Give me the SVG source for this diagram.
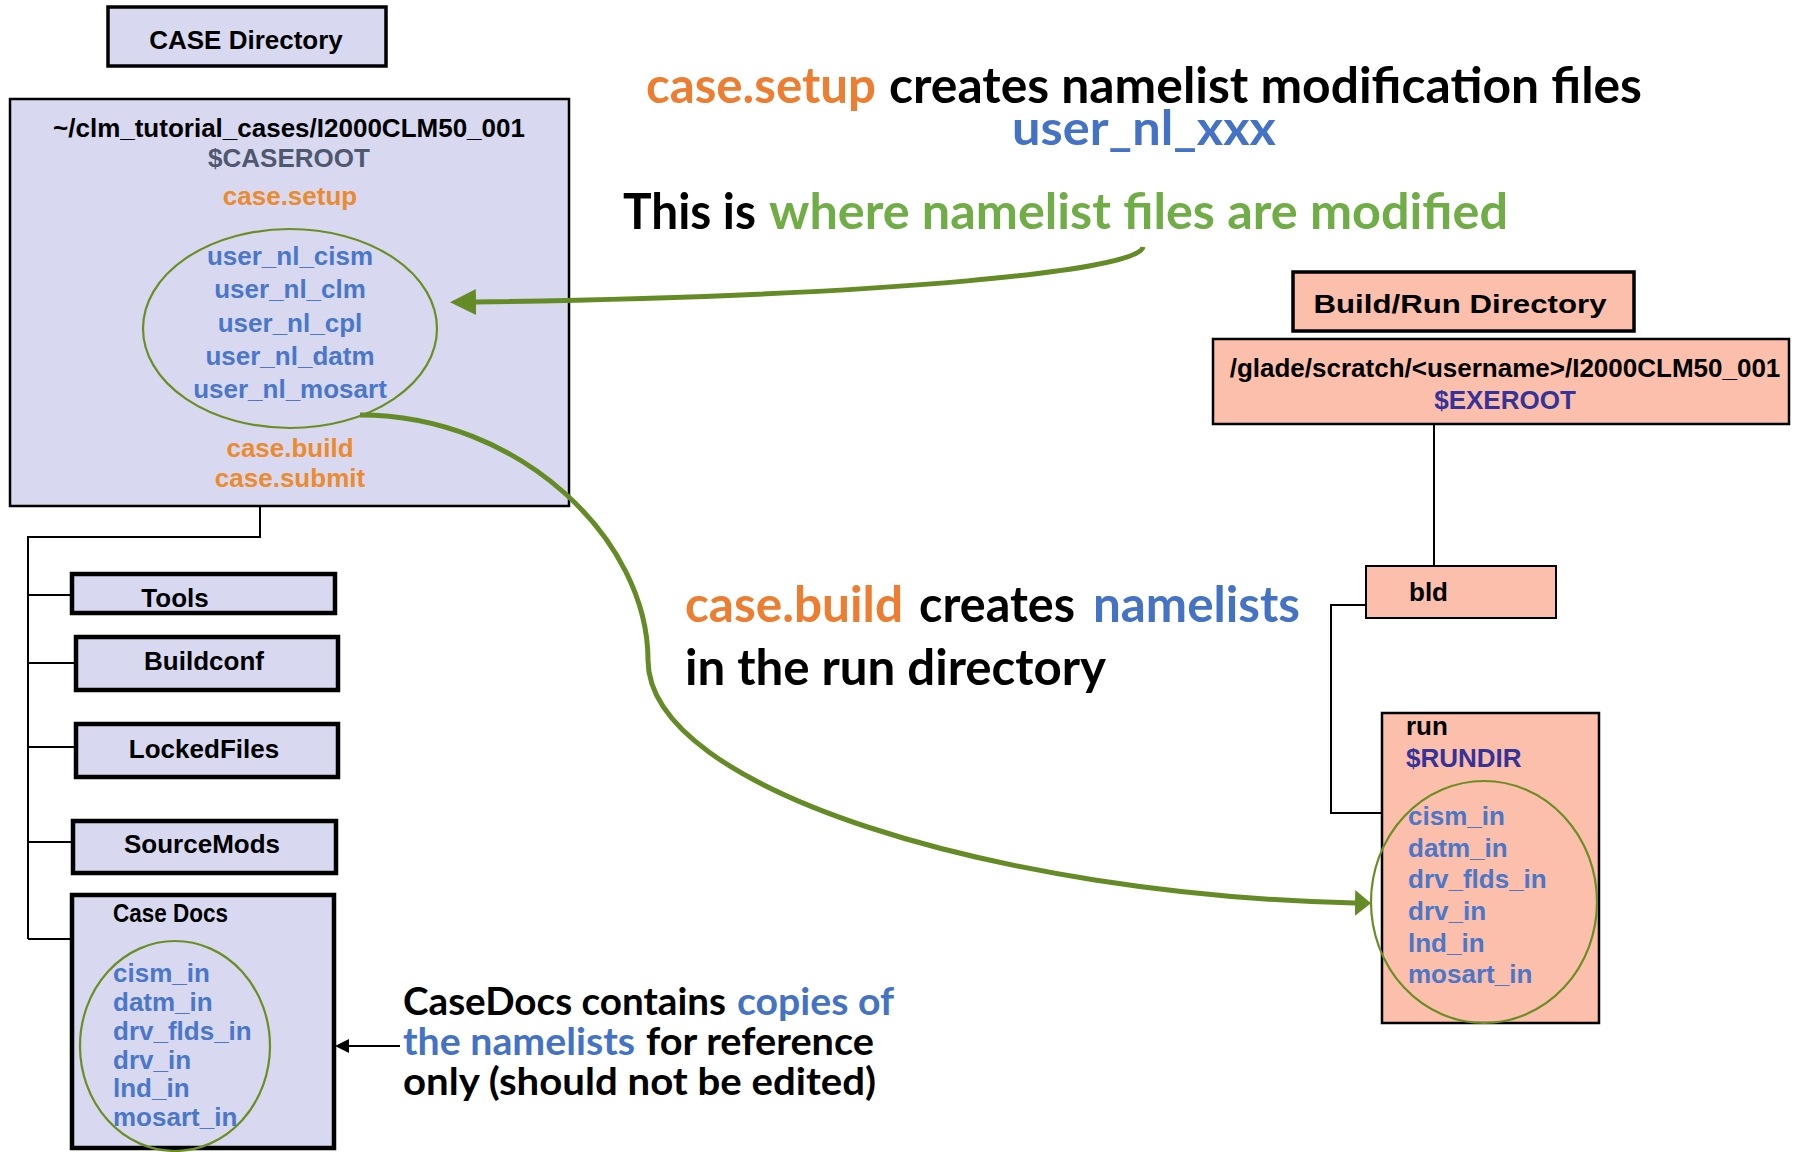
<svg xmlns="http://www.w3.org/2000/svg" width="1797" height="1152" viewBox="0 0 1797 1152">
<defs>
<style>
.lav{fill:#d8d9f1;stroke:#000}
.sal{fill:#fcbfab;stroke:#000}
.a{font-family:"Liberation Sans",Arial,sans-serif;font-weight:bold;font-size:26px}
.l{font-family:Lato,"Open Sans",sans-serif;font-weight:bold}
.k{fill:#000}.o{fill:#ec8a2e}.b{fill:#4a77c9}.gr{fill:#4e586f}.ind{fill:#333399}
.co{fill:#ed7d31}.cb{fill:#4472c4}.cg{fill:#70ad47}
.tree{fill:none;stroke:#000;stroke-width:2}
.gc{fill:none;stroke:#658b26;stroke-width:5}
.ell{fill:none;stroke:#6b8e23;stroke-width:2.2}
</style>
<marker id="gbig" markerUnits="userSpaceOnUse" markerWidth="26" markerHeight="26" viewBox="0 0 26 26" refX="0" refY="13" orient="auto"><path d="M0,0 L26,13 L0,26 z" fill="#658b26"/></marker>
<marker id="gsmall" markerUnits="userSpaceOnUse" markerWidth="16" markerHeight="26" viewBox="0 0 16 26" refX="0" refY="13" orient="auto"><path d="M0,0 L16,13 L0,26 z" fill="#658b26"/></marker>
<marker id="blk" markerUnits="userSpaceOnUse" markerWidth="14" markerHeight="14" viewBox="0 0 14 14" refX="0" refY="7" orient="auto"><path d="M0,0 L14,7 L0,14 z" fill="#000"/></marker>
</defs>
<rect width="1797" height="1152" fill="#fff"/>

<g id="connectors">
<path class="tree" d="M260,506 V537 H28 V939 M28,595 H72 M28,663 H76 M28,747 H76 M28,842 H73 M28,939 H72"/>
<path class="tree" d="M1434,424 V566 M1366,605 H1331 V813 H1382"/>
<path d="M400,1046 H349" stroke="#000" stroke-width="2" fill="none" marker-end="url(#blk)"/>
</g>

<g id="case-directory-label">
<rect class="lav" x="108" y="7" width="278" height="59" stroke-width="3.5"/>
<text class="a k" x="246" y="49" text-anchor="middle" font-size="31">CASE Directory</text>
</g>

<g id="caseroot">
<rect class="lav" x="10" y="99" width="559" height="407" stroke-width="2.5"/>
<text class="a k" x="289" y="137" text-anchor="middle">~/clm_tutorial_cases/I2000CLM50_001</text>
<text class="a gr" x="289" y="167" text-anchor="middle">$CASEROOT</text>
<text class="a o" x="290" y="205" text-anchor="middle">case.setup</text>
<ellipse class="ell" cx="290" cy="328.5" rx="147" ry="99.5"/>
<text class="a b" x="290" y="265" text-anchor="middle">user_nl_cism</text>
<text class="a b" x="290" y="298" text-anchor="middle">user_nl_clm</text>
<text class="a b" x="290" y="332" text-anchor="middle">user_nl_cpl</text>
<text class="a b" x="290" y="365" text-anchor="middle">user_nl_datm</text>
<text class="a b" x="290" y="398" text-anchor="middle">user_nl_mosart</text>
<text class="a o" x="290" y="457" text-anchor="middle">case.build</text>
<text class="a o" x="290" y="487" text-anchor="middle">case.submit</text>
</g>

<g id="tools">
<rect class="lav" x="72" y="574" width="263" height="39" stroke-width="4.5"/>
<text class="a k" x="175" y="607" text-anchor="middle">Tools</text>
</g>
<g id="buildconf">
<rect class="lav" x="76" y="637" width="262" height="53" stroke-width="4.5"/>
<text class="a k" x="204" y="670" text-anchor="middle">Buildconf</text>
</g>
<g id="lockedfiles">
<rect class="lav" x="76" y="724" width="262" height="53" stroke-width="4.5"/>
<text class="a k" x="204" y="758" text-anchor="middle">LockedFiles</text>
</g>
<g id="sourcemods">
<rect class="lav" x="73" y="821" width="263" height="52" stroke-width="4.5"/>
<text class="a k" x="202" y="853" text-anchor="middle">SourceMods</text>
</g>
<g id="casedocs">
<rect class="lav" x="72" y="895" width="262" height="253" stroke-width="4.5"/>
<text class="a k" x="113" y="922" textLength="115" lengthAdjust="spacingAndGlyphs">Case Docs</text>
<ellipse class="ell" cx="175" cy="1046" rx="95" ry="105"/>
<text class="a b" x="113" y="982" font-size="24">cism_in</text>
<text class="a b" x="113" y="1011" font-size="24">datm_in</text>
<text class="a b" x="113" y="1040" font-size="24">drv_flds_in</text>
<text class="a b" x="113" y="1069" font-size="24">drv_in</text>
<text class="a b" x="113" y="1097" font-size="24">lnd_in</text>
<text class="a b" x="113" y="1126" font-size="24">mosart_in</text>
</g>

<g id="buildrun-label">
<rect class="sal" x="1293" y="272" width="341" height="59" stroke-width="3.5"/>
<text class="a k" x="1460" y="313" text-anchor="middle" font-size="30" textLength="293" lengthAdjust="spacingAndGlyphs">Build/Run Directory</text>
</g>
<g id="exeroot">
<rect class="sal" x="1213" y="339" width="576" height="85" stroke-width="2.5"/>
<text class="a k" x="1505" y="377" text-anchor="middle">/glade/scratch/&lt;username&gt;/I2000CLM50_001</text>
<text class="a ind" x="1505" y="409" text-anchor="middle">$EXEROOT</text>
</g>
<g id="bld">
<rect class="sal" x="1366" y="566" width="190" height="52" stroke-width="2"/>
<text class="a k" x="1409" y="601">bld</text>
</g>
<g id="run">
<rect class="sal" x="1382" y="713" width="217" height="310" stroke-width="2.5"/>
<text class="a k" x="1406" y="735">run</text>
<text class="a ind" x="1406" y="767">$RUNDIR</text>
<ellipse class="ell" cx="1484" cy="902" rx="113" ry="121"/>
<text class="a b" x="1408" y="825">cism_in</text>
<text class="a b" x="1408" y="857">datm_in</text>
<text class="a b" x="1408" y="888">drv_flds_in</text>
<text class="a b" x="1408" y="920">drv_in</text>
<text class="a b" x="1408" y="952">lnd_in</text>
<text class="a b" x="1408" y="983">mosart_in</text>
</g>

<g id="green-arrows">
<path class="gc" d="M1143,247 C1140,270 900,296 476,302" marker-end="url(#gbig)"/>
<path class="gc" d="M360,415 C520,415 648,540 648,660 C648,790 1000,895 1355,903" marker-end="url(#gsmall)"/>
</g>

<g id="note-setup">
<text class="l co" x="646" y="103" font-size="49" textLength="230" lengthAdjust="spacingAndGlyphs">case.setup</text>
<text class="l k" x="889" y="103" font-size="49" textLength="753" lengthAdjust="spacingAndGlyphs">creates namelist modification files</text>
<text class="l cb" x="1012" y="145" font-size="47" textLength="264" lengthAdjust="spacingAndGlyphs">user_nl_xxx</text>
</g>
<g id="note-modified">
<text class="l k" x="623" y="229" font-size="50" textLength="133" lengthAdjust="spacingAndGlyphs">This is</text>
<text class="l cg" x="769" y="229" font-size="50" textLength="739" lengthAdjust="spacingAndGlyphs">where namelist files are modified</text>
</g>
<g id="note-build">
<text class="l co" x="685" y="622" font-size="50" textLength="218" lengthAdjust="spacingAndGlyphs">case.build</text>
<text class="l k" x="919" y="622" font-size="50" textLength="156" lengthAdjust="spacingAndGlyphs">creates</text>
<text class="l cb" x="1093" y="622" font-size="50" textLength="207" lengthAdjust="spacingAndGlyphs">namelists</text>
<text class="l k" x="685" y="685" font-size="50" textLength="421" lengthAdjust="spacingAndGlyphs">in the run directory</text>
</g>
<g id="note-casedocs">
<text class="l k" x="403" y="1015" font-size="38" textLength="323" lengthAdjust="spacingAndGlyphs">CaseDocs contains</text>
<text class="l cb" x="737" y="1015" font-size="38" textLength="157" lengthAdjust="spacingAndGlyphs">copies of</text>
<text class="l cb" x="403" y="1055" font-size="38" textLength="232" lengthAdjust="spacingAndGlyphs">the namelists</text>
<text class="l k" x="646" y="1055" font-size="38" textLength="228" lengthAdjust="spacingAndGlyphs">for reference</text>
<text class="l k" x="403" y="1095" font-size="38" textLength="473" lengthAdjust="spacingAndGlyphs">only (should not be edited)</text>
</g>
</svg>
